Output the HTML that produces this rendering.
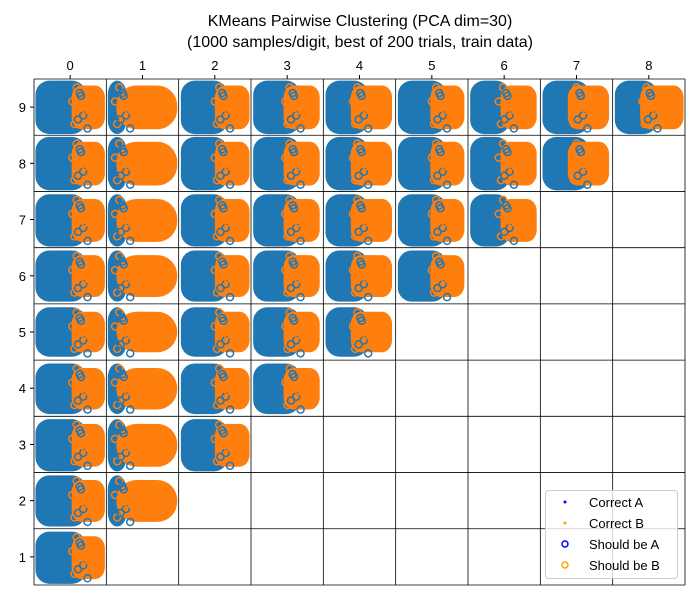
<!DOCTYPE html>
<html><head><meta charset="utf-8"><style>
body{margin:0;background:#fff;}
svg{display:block;font-family:"Liberation Sans","DejaVu Sans",sans-serif;}
</style></head><body>
<svg id="chart" width="700" height="600" viewBox="0 0 700 600">
<text x="360" y="26" text-anchor="middle" font-size="16">KMeans Pairwise Clustering (PCA dim=30)</text>
<text x="360" y="47" text-anchor="middle" font-size="16">(1000 samples/digit, best of 200 trials, train data)</text>
<g id="cells"></g>
<g id="grid"></g>
<g id="ticks"></g>
<g>
<rect x="545.5" y="490.5" width="132" height="88" rx="3" fill="#fff" fill-opacity="0.8" stroke="#ccc"/>
<circle cx="565" cy="502" r="1.5" fill="#0000ff"/>
<text x="589" y="507" font-size="13">Correct A</text>
<circle cx="565" cy="523" r="1.5" fill="#ffa500"/>
<text x="589" y="528" font-size="13">Correct B</text>
<circle cx="565" cy="544" r="3" fill="none" stroke="#0000ff" stroke-width="1.5"/>
<text x="589" y="549" font-size="13">Should be A</text>
<circle cx="565" cy="565" r="3" fill="none" stroke="#ffa500" stroke-width="1.5"/>
<text x="589" y="570" font-size="13">Should be B</text>
</g>
</svg>
<script>
const colLabels = ['0','1','2','3','4','5','6','7','8'];
const rowLabels = ['9','8','7','6','5','4','3','2','1'];
// cluster extents per column (fraction of cell width): blue start/end, orange start/end
const blueX0 = [0.02,0.02,0.03,0.03,0.03,0.03,0.03,0.03,0.03];
const blueX1 = [0.72,0.28,0.68,0.68,0.62,0.70,0.58,0.68,0.62];
const orangeX0 = [0.52,0.14,0.50,0.45,0.38,0.48,0.45,0.38,0.38];
const orangeX1 = [0.98,0.98,0.98,0.95,0.95,0.95,0.95,0.95,0.98];
// vertical extents per row
const clusterY0 = [0.03,0.03,0.05,0.05,0.06,0.06,0.05,0.05,0.05];
const clusterY1 = [0.98,0.98,0.98,0.96,0.94,0.96,0.98,0.96,0.98];
// misclassified marker offsets (fraction of cell)
const markX = [0.45,0.55,0.5,0.6,0.4,0.52,0.65,0.48,0.35,0.7];
const markY = [0.15,0.3,0.5,0.65,0.8,0.25,0.55,0.72,0.4,0.88];

const L=34,T=79,R=685,B=585, cw=(R-L)/9, ch=(B-T)/9;
const ns='http://www.w3.org/2000/svg';
const xCell=c=>L+c*cw, yCell=r=>T+r*ch;
function mk(tag,attrs,parent){const e=document.createElementNS(ns,tag);for(const k in attrs)e.setAttribute(k,attrs[k]);parent.appendChild(e);return e;}
const cells=document.getElementById('cells');
for(let r=0;r<9;r++){
  for(let c=0;c<9-r;c++){
    const g=mk('g',{},cells);
    
    
    const x=xCell(c), y=yCell(r);
    const y0=y+clusterY0[r]*ch, y1=y+clusterY1[r]*ch;
    const bx0=x+blueX0[c]*cw, bx1=x+blueX1[c]*cw;
    const ox0=x+orangeX0[c]*cw, ox1=x+orangeX1[c]*cw;
    const bw=bx1-bx0, bh=y1-y0;
    const be=mk('rect',{x:bx0,y:y0,width:bw,height:bh,rx:Math.min(bw/2,14),ry:14,fill:'#1f77b4'},g);
    
    
    const oh=bh*0.82, oy=y0+(bh-oh)/2;
    const oe=mk('rect',{x:ox0,y:oy,width:ox1-ox0,height:oh,rx:(c===1?20:10),ry:(c===1?20:12),fill:'#ff7f0e'},g);
    
    
    for(let k=0;k<markX.length;k++){
      const cx=bx1*0.5+ox0*0.5+(markX[k]-0.5)*cw*0.6, cy=y+markY[k]*ch;
      const m=mk('circle',{cx:cx,cy:cy,r:3.5,fill:'none',stroke:k%2?'#1f77b4':'#ff7f0e','stroke-width':1.5},g);
      
      
    }
  }
}
const grid=document.getElementById('grid');
for(let i=0;i<=9;i++){
  mk('line',{x1:xCell(i),x2:xCell(i),y1:T,y2:B,stroke:'#000','stroke-width':0.8},grid);
  mk('line',{x1:L,x2:R,y1:yCell(i),y2:yCell(i),stroke:'#000','stroke-width':0.8},grid);
}
const ticks=document.getElementById('ticks');
colLabels.forEach((lab,i)=>{
  const cx=xCell(i)+cw/2;
  mk('line',{x1:cx,x2:cx,y1:T,y2:T-4,stroke:'#000'},ticks);
  const t=mk('text',{x:cx,y:T-9,'text-anchor':'middle','font-size':13},ticks);
  t.textContent=lab;
  
  
});
rowLabels.forEach((lab,i)=>{
  const cy=yCell(i)+ch/2;
  mk('line',{x1:L,x2:L-4,y1:cy,y2:cy,stroke:'#000'},ticks);
  const t=mk('text',{x:L-8,y:cy+5,'text-anchor':'end','font-size':13},ticks);
  t.textContent=lab;
  
  
});
</script>
</body></html>
